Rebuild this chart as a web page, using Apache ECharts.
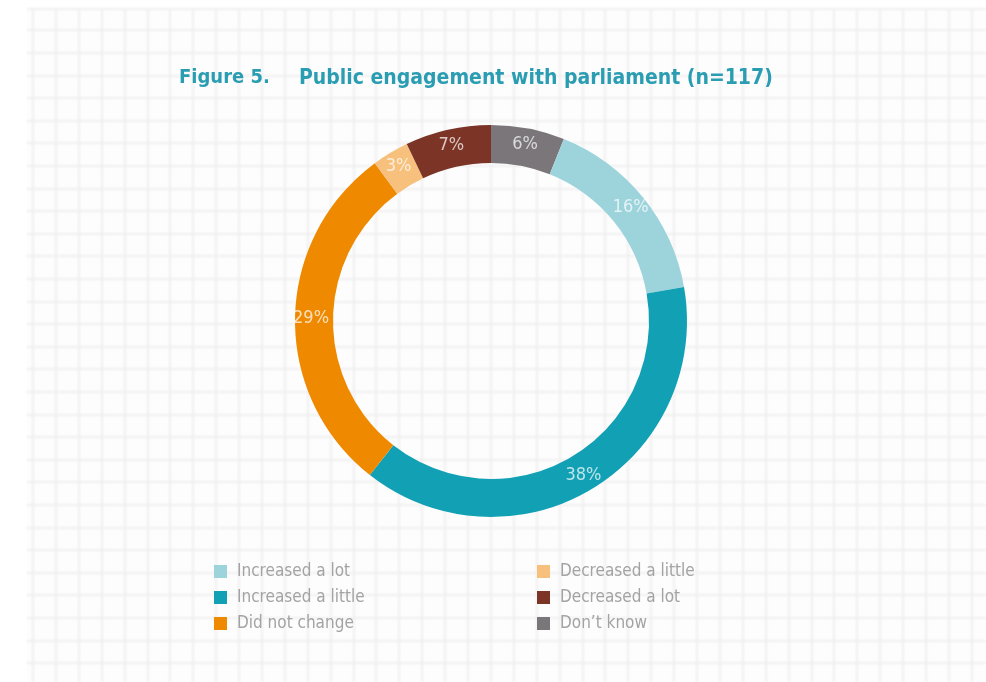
<!DOCTYPE html>
<html>
<head>
<meta charset="utf-8">
<script src="https://cdn.jsdelivr.net/npm/echarts@6/dist/echarts.min.js"></script>
<style>
  html, body { margin: 0; padding: 0; background: #ffffff; }
  #wrap { position: relative; width: 986px; height: 682px; overflow: hidden; background: #ffffff; }
  #paper { position: absolute; left: 0; top: 0; filter: blur(0.9px); }
  #chart { position: absolute; left: 0; top: 0; width: 986px; height: 682px; }
</style>
</head>
<body>
<div id="wrap">
  <canvas id="paper" width="986" height="682"></canvas>
  <div id="chart"></div>
</div>
<script>
// Survey responses, in drawing order (clockwise from 12 o'clock)
const categories = ['Don’t know', 'Increased a lot', 'Increased a little', 'Did not change', 'Decreased a little', 'Decreased a lot'];
const percentages = [6, 16, 38, 29, 3, 7];
const sliceColors = ['#7a7679', '#9dd4dc', '#12a0b4', '#ef8a00', '#f7c07c', '#7b3426'];

// Legend layout: two columns
const legendLeft = ['Increased a lot', 'Increased a little', 'Did not change'];
const legendRight = ['Decreased a little', 'Decreased a lot', 'Don’t know'];

const narrow = '"Liberation Sans Narrow", "DejaVu Sans Condensed", "Roboto", sans-serif';

// Graph-paper backdrop behind the chart
(function drawPaper() {
  const cv = document.getElementById('paper');
  const ctx = cv.getContext('2d');
  const left = 27, top = 8;
  ctx.fillStyle = '#fdfdfd';
  ctx.fillRect(left, top, cv.width - left, cv.height - top);
  ctx.fillStyle = '#efefef';
  for (let x = 33 - 22.9; x < cv.width; x += 22.9) {
    const xi = Math.round(x);
    if (xi + 2 < left) continue;
    ctx.fillRect(Math.max(xi - 1, left), top, 2, cv.height - top);
  }
  for (let y = 53 - 2 * 22.6; y < cv.height; y += 22.6) {
    const yi = Math.round(y);
    if (yi + 2 < top) continue;
    ctx.fillRect(left, Math.max(yi - 1, top), cv.width - left, 2);
  }
})();

const chart = echarts.init(document.getElementById('chart'), null, { renderer: 'canvas' });

const legendCommon = {
  orient: 'vertical',
  icon: 'rect',
  itemWidth: 13,
  itemHeight: 13,
  itemGap: 9,
  selectedMode: false,
  textStyle: { color: '#a3a3a3', fontSize: 17, fontFamily: narrow, lineHeight: 17, padding: [0, 0, 0, 5] }
};

chart.setOption({
  backgroundColor: 'transparent',
  animation: false,
  title: [
    {
      text: 'Figure 5.',
      left: 174, top: 63,
      textStyle: { color: '#2a9db3', fontSize: 20, fontWeight: 'bold', fontFamily: narrow }
    },
    {
      text: 'Public engagement with parliament (n=117)',
      left: 294, top: 63,
      textStyle: { color: '#2a9db3', fontSize: 21, fontWeight: 'bold', fontFamily: narrow }
    }
  ],
  legend: [
    Object.assign({ left: 209, top: 558, data: legendLeft }, legendCommon),
    Object.assign({ left: 532, top: 558, data: legendRight }, legendCommon)
  ],
  series: [{
    type: 'pie',
    center: [491, 321],
    radius: [158, 196],
    startAngle: 90,
    clockwise: true,
    avoidLabelOverlap: false,
    emphasis: { disabled: true },
    label: {
      show: true,
      position: 'inside',
      formatter: '{c}%',
      color: 'rgba(255,255,255,0.72)',
      fontSize: 18,
      fontFamily: narrow
    },
    labelLine: { show: false },
    data: categories.map((name, i) => ({
      name: name,
      value: percentages[i],
      itemStyle: { color: sliceColors[i] }
    }))
  }]
});
</script>
</body>
</html>
